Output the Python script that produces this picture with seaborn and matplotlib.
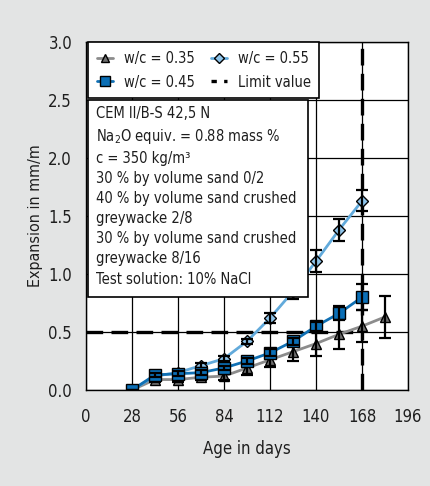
import numpy as np
import pandas as pd
import seaborn as sns
import matplotlib
matplotlib.use("Agg")
import matplotlib.pyplot as plt
from matplotlib.patches import Rectangle
from matplotlib.lines import Line2D

# ---- data ----
days_035 = [28, 42, 56, 70, 84, 98, 112, 126, 140, 154, 168, 182]
exp_035 = [0.00, 0.09, 0.09, 0.11, 0.12, 0.19, 0.26, 0.33, 0.40, 0.48, 0.55, 0.63]
err_035 = [0.00, 0.02, 0.02, 0.02, 0.03, 0.06, 0.06, 0.08, 0.11, 0.13, 0.14, 0.18]

days_045 = [28, 42, 56, 70, 84, 98, 112, 126, 140, 154, 168]
exp_045 = [0.00, 0.13, 0.14, 0.15, 0.19, 0.25, 0.32, 0.42, 0.55, 0.66, 0.80]
err_045 = [0.00, 0.02, 0.02, 0.02, 0.02, 0.03, 0.03, 0.03, 0.04, 0.06, 0.11]

days_055 = [28, 42, 56, 70, 84, 98, 112, 126, 140, 154, 168]
exp_055 = [0.00, 0.12, 0.15, 0.21, 0.27, 0.42, 0.62, 0.85, 1.11, 1.38, 1.63]
err_055 = [0.00, 0.01, 0.01, 0.02, 0.02, 0.02, 0.04, 0.065, 0.095, 0.095, 0.09]

limit_value = 0.5
limit_age = 168
x_ticks = [0, 28, 56, 84, 112, 140, 168, 196]
y_ticks = [0.0, 0.5, 1.0, 1.5, 2.0, 2.5, 3.0]
series_labels = ["w/c = 0.35", "w/c = 0.45", "w/c = 0.55"]
info_lines = [
    "CEM II/B-S 42,5 N",
    r"Na$_2$O equiv. = 0.88 mass %",
    "c = 350 kg/m³",
    "30 % by volume sand 0/2",
    "40 % by volume sand crushed",
    "greywacke 2/8",
    "30 % by volume sand crushed",
    "greywacke 8/16",
    "Test solution: 10% NaCl",
]

# ---- style ----
sns.set_theme(style="white")
plt.rcParams["font.family"] = ["DejaVu Sans"]
plt.rcParams["font.stretch"] = "condensed"
plt.rcParams["mathtext.default"] = "regular"

BG = "#e3e4e4"
TXT = "#1e1e1e"
C035_LINE, C035_MK = "#8c8c8c", "#6e6e6e"
C045_LINE, C045_MK = "#1070b4", "#0b6fb6"
C055_LINE, C055_MK = "#62aadb", "#8ec4ea"

fig = plt.figure(figsize=(4.31, 4.86), dpi=100, facecolor=BG)
ax = fig.add_axes([86 / 431, 1 - 390 / 486, 322 / 431, 348 / 486])
ax.set_facecolor("white")

df = pd.concat([
    pd.DataFrame({"Age": days_035, "Exp": exp_035, "err": err_035, "s": series_labels[0]}),
    pd.DataFrame({"Age": days_045, "Exp": exp_045, "err": err_045, "s": series_labels[1]}),
    pd.DataFrame({"Age": days_055, "Exp": exp_055, "err": err_055, "s": series_labels[2]}),
])

specs = {
    series_labels[0]: dict(color=C035_LINE, marker="^", mfc=C035_MK, z=3),
    series_labels[1]: dict(color=C045_LINE, marker="s", mfc=C045_MK, z=5),
    series_labels[2]: dict(color=C055_LINE, marker="D", mfc=C055_MK, z=3.5),
}
msize = {"^": 7, "s": 8, "D": 6.5}

ax.set_xlim(0, 196)
ax.set_ylim(0, 3.0)
ax.set_xticks(x_ticks)
ax.set_yticks(y_ticks)
ax.set_yticklabels([f"{v:.1f}" for v in y_ticks])
ax.grid(True, color="black", linewidth=0.9, zorder=0)
ax.set_axisbelow(True)

for lab in series_labels:
    sub = df[df["s"] == lab]
    sp = specs[lab]
    ax.errorbar(sub["Age"], sub["Exp"], yerr=sub["err"], fmt="none",
                ecolor="black", elinewidth=1.6, capsize=4, capthick=1.6,
                zorder=sp["z"] + 0.5)
    sns.lineplot(data=sub, x="Age", y="Exp", ax=ax, color=sp["color"],
                 linewidth=2.0, marker=sp["marker"], markersize=msize[sp["marker"]],
                 markerfacecolor=sp["mfc"], markeredgecolor="black",
                 markeredgewidth=1.0, zorder=sp["z"], legend=False)

ax.plot([0, limit_age], [limit_value, limit_value], color="black", lw=2.4,
        dashes=(5, 2.5), zorder=2)
ax.plot([limit_age, limit_age], [0, 3.0], color="black", lw=2.4,
        dashes=(5, 2.5), zorder=2)

for s in ax.spines.values():
    s.set_color("black")
    s.set_linewidth(1.0)
ax.tick_params(axis="both", direction="out", length=6, width=1.0,
               color="black", labelsize=12, labelcolor=TXT)
ax.tick_params(axis="x", pad=7)
ax.tick_params(axis="y", pad=4)
ax.set_xlabel("Age in days", fontsize=12, color=TXT, labelpad=10)
ax.set_ylabel("Expansion in mm/m", fontsize=11.5, color=TXT, labelpad=4)

handles = [
    Line2D([], [], color=specs[l]["color"], lw=2.0, marker=specs[l]["marker"],
           markersize=msize[specs[l]["marker"]] - 1.5, markerfacecolor=specs[l]["mfc"],
           markeredgecolor="black", markeredgewidth=1.0)
    for l in series_labels
]
h_limit = Line2D([], [], color="black", lw=2.4, dashes=(1.6, 2.2))
order_h = [handles[0], handles[1], handles[2], h_limit]
order_l = [series_labels[0], series_labels[1], series_labels[2], "Limit value"]
leg = ax.legend(order_h, order_l, ncol=2, loc="upper left",
                bbox_to_anchor=(0.006, 1.0), frameon=True, fancybox=False,
                framealpha=1, edgecolor="black", fontsize=10.5,
                handlelength=1.15, columnspacing=1.1, handletextpad=0.7,
                borderpad=0.6, labelspacing=0.6, borderaxespad=0)
leg.get_frame().set_linewidth(1.2)
leg.set_zorder(10)
for t in leg.get_texts():
    t.set_color(TXT)

ax.add_patch(Rectangle((0.006, 0.267), 0.683, 0.566, transform=ax.transAxes,
                       facecolor="white", edgecolor="black", lw=1.2, zorder=8))
ax.text(0.03, 0.815, "\n".join(info_lines), transform=ax.transAxes,
        va="top", ha="left", fontsize=10.5, color=TXT,
        linespacing=1.42, zorder=9)

fig.savefig("out.png", dpi=100, facecolor=BG)
